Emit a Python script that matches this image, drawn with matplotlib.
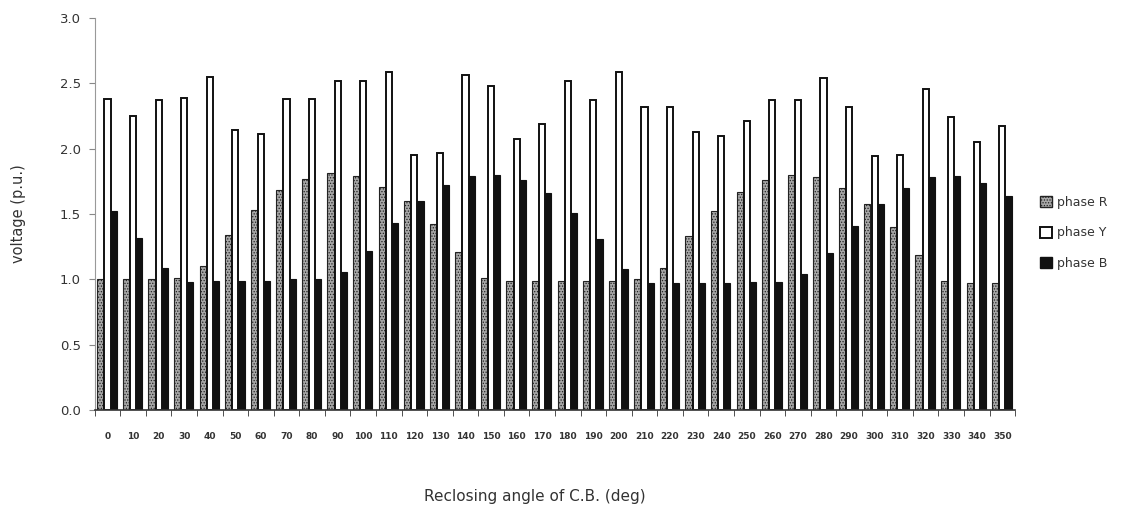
import numpy as np
import matplotlib.pyplot as plt
from matplotlib.patches import Patch

# reclosing angle of the circuit breaker (deg)
angles = list(range(0, 360, 10))

# peak voltage on each phase (p.u.)
phase_r = [1.00, 1.00, 1.00, 1.01, 1.10, 1.34, 1.53, 1.68, 1.77, 1.81,
           1.79, 1.71, 1.60, 1.42, 1.21, 1.01, 0.99, 0.99, 0.99, 0.99,
           0.99, 1.00, 1.09, 1.33, 1.52, 1.67, 1.76, 1.80, 1.78, 1.70,
           1.58, 1.40, 1.19, 0.99, 0.97, 0.97]
phase_y = [2.38, 2.25, 2.37, 2.39, 2.55, 2.14, 2.11, 2.38, 2.38, 2.52,
           2.52, 2.59, 1.95, 1.97, 2.56, 2.48, 2.07, 2.19, 2.52, 2.37,
           2.59, 2.32, 2.32, 2.13, 2.10, 2.21, 2.37, 2.37, 2.54, 2.32,
           1.94, 1.95, 2.46, 2.24, 2.05, 2.17]
phase_b = [1.52, 1.32, 1.09, 0.98, 0.99, 0.99, 0.99, 1.00, 1.00, 1.06,
           1.22, 1.43, 1.60, 1.72, 1.79, 1.80, 1.76, 1.66, 1.51, 1.31,
           1.08, 0.97, 0.97, 0.97, 0.97, 0.98, 0.98, 1.04, 1.20, 1.41,
           1.58, 1.70, 1.78, 1.79, 1.74, 1.64]

plt.rcParams['hatch.color'] = '#555555'
plt.rcParams['hatch.linewidth'] = 0.6

fig = plt.figure(figsize=(11.28, 5.12), dpi=100)
ax = fig.add_axes([0.084, 0.199, 0.816, 0.766])

x = np.arange(len(angles))
w = 0.24

ax.bar(x - 0.28, phase_r, w, facecolor='#a8a8a8', edgecolor='#222222',
       linewidth=0.8, hatch='......')
ax.bar(x, phase_y, w, facecolor='white', edgecolor='#111111', linewidth=1.4)
ax.bar(x + w, phase_b, w, facecolor='#111111', edgecolor='#111111',
       linewidth=0.8)

ax.set_xlim(-0.5, len(angles) - 0.5)
ax.set_ylim(0, 3.0)
ax.set_yticks(np.arange(0, 3.01, 0.5))
ax.set_yticklabels([f"{v:.1f}" for v in np.arange(0, 3.01, 0.5)],
                   fontsize=9.5, color='#333333')

# category labels under each group, ticks on the group boundaries
ax.set_xticks(x)
ax.set_xticklabels([str(a) for a in angles], fontsize=6.5,
                   fontweight='bold', color='#333333')
ax.tick_params(axis='x', length=0, pad=16)
ax.set_xticks(np.arange(-0.5, len(angles), 1), minor=True)
ax.tick_params(axis='x', which='minor', length=4, color='#333333',
               direction='out')
ax.tick_params(axis='y', length=4, color='#888888', pad=6)

for side in ['top', 'right']:
    ax.spines[side].set_visible(False)
ax.spines['left'].set_color('#999999')
ax.spines['bottom'].set_color('#333333')
ax.spines['bottom'].set_linewidth(1.2)

ax.set_ylabel('voltage (p.u.)', fontsize=10.5, color='#333333', labelpad=24)
fig.text(0.474, 0.03, 'Reclosing angle of C.B. (deg)', fontsize=11,
         color='#333333', ha='center', va='center')

handles = [
    Patch(facecolor='#a8a8a8', edgecolor='#222222', hatch='......',
          label='phase R'),
    Patch(facecolor='white', edgecolor='#111111', linewidth=1.4,
          label='phase Y'),
    Patch(facecolor='#111111', edgecolor='#111111', label='phase B'),
]
fig.legend(handles=handles, loc='center left',
           bbox_to_anchor=(0.912, 0.545), frameon=False, fontsize=9,
           handlelength=1.0, handleheight=1.0, handletextpad=0.4,
           labelspacing=1.4, labelcolor='#333333')

fig.savefig('out.png', dpi=100)
